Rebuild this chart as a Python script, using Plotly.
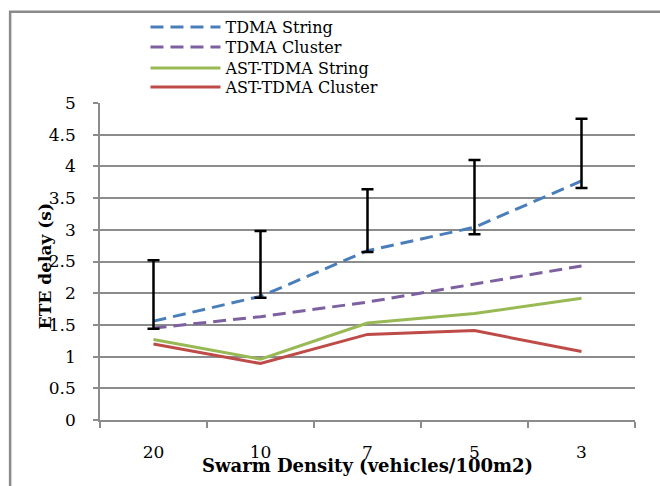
import plotly.graph_objects as go

categories = ["20", "10", "7", "5", "3"]
tdma_string = [1.56, 1.95, 2.67, 3.04, 3.77]
tdma_cluster = [1.45, 1.63, 1.86, 2.15, 2.43]
ast_string = [1.27, 0.96, 1.53, 1.68, 1.92]
ast_cluster = [1.20, 0.89, 1.35, 1.41, 1.08]
err_low = [1.44, 1.93, 2.65, 2.93, 3.66]
err_high = [2.52, 2.98, 3.64, 4.10, 4.75]
y_ticks = [0, 0.5, 1, 1.5, 2, 2.5, 3, 3.5, 4, 4.5, 5]

FONT = "DejaVu Serif"
GRID = "#8c8c8c"

fig = go.Figure()
series = [
    ("TDMA String", tdma_string, "#4A7EBB", "13px,7px", "legend"),
    ("TDMA Cluster", tdma_cluster, "#7D60A0", "13px,7px", "legend2"),
    ("AST-TDMA String", ast_string, "#98B954", "solid", "legend3"),
    ("AST-TDMA Cluster", ast_cluster, "#BE4B48", "solid", "legend4"),
]
for name, vals, col, dash, lg in series:
    fig.add_trace(go.Scatter(x=categories, y=vals, name=name, mode="lines",
                             legend=lg,
                             line=dict(color=col, width=3, dash=dash)))

mid = [(a + b) / 2 for a, b in zip(err_low, err_high)]
half = [(b - a) / 2 for a, b in zip(err_low, err_high)]
fig.add_trace(go.Scatter(x=categories, y=mid, mode="markers", showlegend=False,
                         marker=dict(size=1, opacity=0),
                         error_y=dict(type="data", array=half, visible=True,
                                      color="black", thickness=2.5, width=6),
                         hoverinfo="skip"))

row_y = [1.2397, 1.1767, 1.110, 1.0505]
def leg(y):
    return dict(x=0.085, y=y, xanchor="left", yanchor="middle",
                font=dict(family=FONT, size=16), itemwidth=70,
                bgcolor="rgba(0,0,0,0)")

fig.update_layout(
    width=660, height=486,
    margin=dict(l=100, r=25, t=103, b=66, autoexpand=False),
    paper_bgcolor="white", plot_bgcolor="white",
    font=dict(family=FONT, size=17, color="black"),
    legend=leg(row_y[0]), legend2=leg(row_y[1]),
    legend3=leg(row_y[2]), legend4=leg(row_y[3]),
    xaxis=dict(type="category", range=[-0.5, 4.5], showgrid=False, showline=True,
               linecolor=GRID, linewidth=1.5, ticks="outside", tickson="boundaries",
               ticklen=6, tickcolor=GRID, tickwidth=1.5, ticklabelstandoff=16,
               tickfont=dict(size=17)),
    yaxis=dict(range=[0, 5], tickvals=y_ticks, ticktext=[f"{v:g}" for v in y_ticks],
               showgrid=True, gridcolor=GRID, gridwidth=1.5, showline=True,
               linecolor=GRID, linewidth=1.5, ticks="outside", ticklen=5,
               tickcolor=GRID, tickwidth=1.5, ticklabelstandoff=14,
               zeroline=False, tickfont=dict(size=17)),
    annotations=[
        dict(text="<b>ETE delay (s)</b>", xref="paper", yref="paper",
             x=-0.103, y=0.485, textangle=-90, showarrow=False,
             xanchor="center", yanchor="middle", font=dict(size=17)),
        dict(text="<b>Swarm Density (vehicles/100m2)</b>", xref="paper", yref="paper",
             x=0.5, y=-0.145, showarrow=False, xanchor="center", yanchor="middle",
             font=dict(size=18)),
    ],
    shapes=[dict(type="rect", xref="paper", yref="paper", x0=-0.168, y0=-1,
                 x1=3, y1=1.2875, line=dict(color="#8a8a8a", width=2.5),
                 layer="below")],
)

fig.write_html("out.html")
